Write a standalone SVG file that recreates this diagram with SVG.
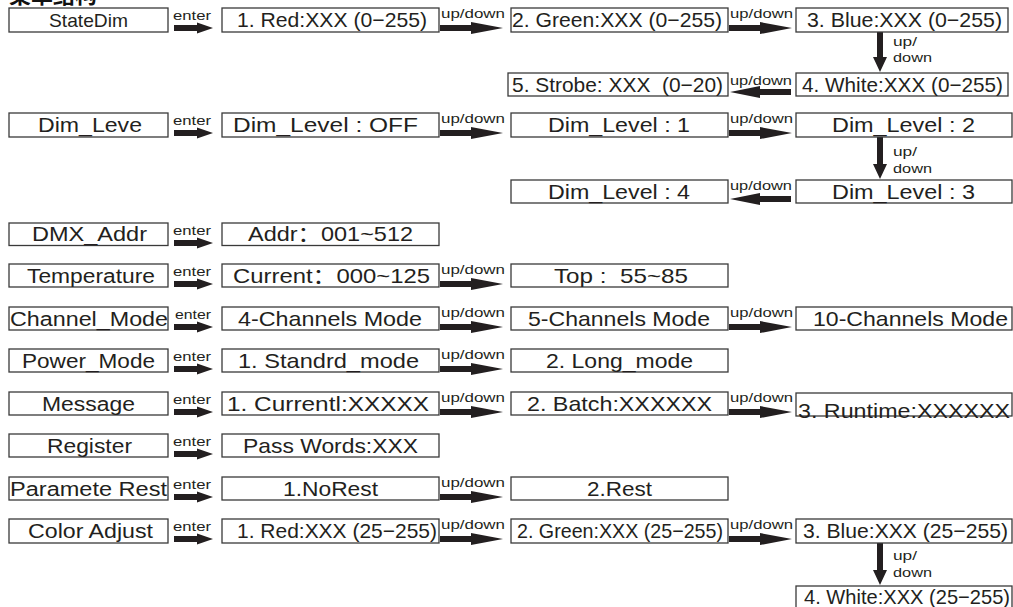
<svg xmlns="http://www.w3.org/2000/svg" width="1013" height="607" viewBox="0 0 1013 607">
<style>
.box{fill:#fff;stroke:#3a3a3a;stroke-width:1.3}
.t{font-family:"Liberation Sans","Noto Sans CJK SC",Arial,sans-serif;font-size:21px;fill:#231f20;white-space:pre}
.c1{font-size:20px}
.s{font-family:"Liberation Sans",Arial,sans-serif;font-size:13.5px;fill:#231f20}
.a{fill:#231f20}
.title{font-family:"Noto Sans CJK SC",sans-serif;font-size:22px;font-weight:bold;fill:#111}
</style>
<defs>
<path id="enterArrow" d="M0,-3 H23 V-5.5 L39,0 L23,5.5 V3 H0 Z"/>
<path id="udArrow" d="M0,-3 H31 V-6 L63,0 L31,6 V3 H0 Z"/>
<path id="udLeft" d="M61,-3 H30 V-6 L0,0 L30,6 V3 H61 Z"/>
</defs>
<rect width="1013" height="607" fill="#fff"/>
<text class="title" x="9" y="3">菜单结构</text>

<g id="connectors">
  <use href="#enterArrow" class="a" x="174" y="28"/>
  <use href="#enterArrow" class="a" x="174" y="133"/>
  <use href="#enterArrow" class="a" x="174" y="243"/>
  <use href="#enterArrow" class="a" x="174" y="284"/>
  <use href="#enterArrow" class="a" x="174" y="327"/>
  <use href="#enterArrow" class="a" x="174" y="369"/>
  <use href="#enterArrow" class="a" x="174" y="412"/>
  <use href="#enterArrow" class="a" x="174" y="454"/>
  <use href="#enterArrow" class="a" x="174" y="497"/>
  <use href="#enterArrow" class="a" x="174" y="539"/>
  <text class="s" x="173" y="19.5" textLength="38" lengthAdjust="spacingAndGlyphs">enter</text>
  <text class="s" x="173" y="124.5" textLength="38" lengthAdjust="spacingAndGlyphs">enter</text>
  <text class="s" x="173" y="234.5" textLength="38" lengthAdjust="spacingAndGlyphs">enter</text>
  <text class="s" x="173" y="275.5" textLength="38" lengthAdjust="spacingAndGlyphs">enter</text>
  <text class="s" x="175" y="318.5" textLength="36" lengthAdjust="spacingAndGlyphs">enter</text>
  <text class="s" x="173" y="360.5" textLength="38" lengthAdjust="spacingAndGlyphs">enter</text>
  <text class="s" x="173" y="403.5" textLength="38" lengthAdjust="spacingAndGlyphs">enter</text>
  <text class="s" x="173" y="445.5" textLength="38" lengthAdjust="spacingAndGlyphs">enter</text>
  <text class="s" x="173" y="488.5" textLength="38" lengthAdjust="spacingAndGlyphs">enter</text>
  <text class="s" x="173" y="530.5" textLength="38" lengthAdjust="spacingAndGlyphs">enter</text>

  <use href="#udArrow" class="a" x="440" y="28"/>
  <use href="#udArrow" class="a" x="440" y="133"/>
  <use href="#udArrow" class="a" x="440" y="284"/>
  <use href="#udArrow" class="a" x="440" y="327"/>
  <use href="#udArrow" class="a" x="440" y="369"/>
  <use href="#udArrow" class="a" x="440" y="412"/>
  <use href="#udArrow" class="a" x="440" y="497"/>
  <use href="#udArrow" class="a" x="440" y="539"/>
  <text class="s" x="441" y="18" textLength="64" lengthAdjust="spacingAndGlyphs">up/down</text>
  <text class="s" x="441" y="123" textLength="64" lengthAdjust="spacingAndGlyphs">up/down</text>
  <text class="s" x="441" y="274" textLength="64" lengthAdjust="spacingAndGlyphs">up/down</text>
  <text class="s" x="441" y="317" textLength="64" lengthAdjust="spacingAndGlyphs">up/down</text>
  <text class="s" x="441" y="359" textLength="64" lengthAdjust="spacingAndGlyphs">up/down</text>
  <text class="s" x="441" y="402" textLength="64" lengthAdjust="spacingAndGlyphs">up/down</text>
  <text class="s" x="441" y="487" textLength="64" lengthAdjust="spacingAndGlyphs">up/down</text>
  <text class="s" x="441" y="529" textLength="64" lengthAdjust="spacingAndGlyphs">up/down</text>

  <use href="#udArrow" class="a" x="729" y="28"/>
  <use href="#udArrow" class="a" x="729" y="133"/>
  <use href="#udArrow" class="a" x="729" y="327"/>
  <use href="#udArrow" class="a" x="729" y="412"/>
  <use href="#udArrow" class="a" x="729" y="539"/>
  <text class="s" x="730" y="18" textLength="63" lengthAdjust="spacingAndGlyphs">up/down</text>
  <text class="s" x="730" y="123" textLength="63" lengthAdjust="spacingAndGlyphs">up/down</text>
  <text class="s" x="730" y="317" textLength="63" lengthAdjust="spacingAndGlyphs">up/down</text>
  <text class="s" x="730" y="402" textLength="63" lengthAdjust="spacingAndGlyphs">up/down</text>
  <text class="s" x="730" y="529" textLength="63" lengthAdjust="spacingAndGlyphs">up/down</text>

  <use href="#udLeft" class="a" x="730" y="92"/>
  <use href="#udLeft" class="a" x="730" y="199"/>
  <text class="s" x="730" y="85" textLength="62" lengthAdjust="spacingAndGlyphs">up/down</text>
  <text class="s" x="730" y="190" textLength="62" lengthAdjust="spacingAndGlyphs">up/down</text>

  <path class="a" d="M877,32 V57 H873 L880,72 L887,57 H883 V32 Z"/>
  <path class="a" d="M877,137 V164 H873 L880,179 L887,164 H883 V137 Z"/>
  <path class="a" d="M877,543 V570 H873 L880,585 L887,570 H883 V543 Z"/>
  <text class="s" x="893" y="46" textLength="24" lengthAdjust="spacingAndGlyphs">up/</text>
  <text class="s" x="893" y="62" textLength="39" lengthAdjust="spacingAndGlyphs">down</text>
  <text class="s" x="893" y="156" textLength="24" lengthAdjust="spacingAndGlyphs">up/</text>
  <text class="s" x="893" y="173" textLength="39" lengthAdjust="spacingAndGlyphs">down</text>
  <text class="s" x="893" y="560" textLength="24" lengthAdjust="spacingAndGlyphs">up/</text>
  <text class="s" x="893" y="577" textLength="39" lengthAdjust="spacingAndGlyphs">down</text>
</g>

<g id="n-statedim"><rect class="box" x="9" y="8" width="159" height="24"/><text class="t" style="font-size:19px" x="49" y="27" textLength="79" lengthAdjust="spacingAndGlyphs">StateDim</text></g>
<g id="n-red"><rect class="box" x="222" y="8" width="217" height="24"/><text class="t" x="237" y="27" textLength="190" lengthAdjust="spacingAndGlyphs">1. Red:XXX (0−255)</text></g>
<g id="n-green"><rect class="box" x="511" y="8" width="217" height="24"/><text class="t" x="512" y="27" textLength="210" lengthAdjust="spacingAndGlyphs">2. Green:XXX (0−255)</text></g>
<g id="n-blue"><rect class="box" x="796" y="8" width="212" height="24"/><text class="t" x="807" y="27" textLength="195" lengthAdjust="spacingAndGlyphs">3. Blue:XXX (0−255)</text></g>
<g id="n-strobe"><rect class="box" x="508" y="73" width="220" height="23"/><text class="t" x="512" y="92" textLength="211" lengthAdjust="spacingAndGlyphs">5. Strobe: XXX  (0−20)</text></g>
<g id="n-white"><rect class="box" x="796" y="73" width="212" height="23"/><text class="t" x="802" y="92" textLength="201" lengthAdjust="spacingAndGlyphs">4. White:XXX (0−255)</text></g>

<g id="n-dimleve"><rect class="box" x="9" y="113" width="159" height="24"/><text class="t c1" x="38" y="132" textLength="104" lengthAdjust="spacingAndGlyphs">Dim_Leve</text></g>
<g id="n-dimoff"><rect class="box" x="222" y="113" width="217" height="24"/><text class="t" x="233" y="132" textLength="185" lengthAdjust="spacingAndGlyphs">Dim_Level : OFF</text></g>
<g id="n-dim1"><rect class="box" x="511" y="113" width="217" height="24"/><text class="t" x="548" y="132" textLength="142" lengthAdjust="spacingAndGlyphs">Dim_Level : 1</text></g>
<g id="n-dim2"><rect class="box" x="796" y="113" width="216" height="24"/><text class="t" x="832" y="132" textLength="143" lengthAdjust="spacingAndGlyphs">Dim_Level : 2</text></g>
<g id="n-dim4"><rect class="box" x="511" y="180" width="217" height="23"/><text class="t" x="548" y="199" textLength="142" lengthAdjust="spacingAndGlyphs">Dim_Level : 4</text></g>
<g id="n-dim3"><rect class="box" x="796" y="180" width="216" height="23"/><text class="t" x="832" y="199" textLength="143" lengthAdjust="spacingAndGlyphs">Dim_Level : 3</text></g>

<g id="n-dmx"><rect class="box" x="9" y="223" width="159" height="22.5"/><text class="t c1" x="32" y="241" textLength="115" lengthAdjust="spacingAndGlyphs">DMX_Addr</text></g>
<g id="n-addr"><rect class="box" x="222" y="223" width="217" height="22.5"/><text class="t" x="248" y="241" textLength="165" lengthAdjust="spacingAndGlyphs">Addr：001~512</text></g>

<g id="n-temp"><rect class="box" x="9" y="264" width="159" height="23"/><text class="t c1" x="27" y="283" textLength="128" lengthAdjust="spacingAndGlyphs">Temperature</text></g>
<g id="n-current"><rect class="box" x="222" y="264" width="217" height="23"/><text class="t" x="233" y="283" textLength="197" lengthAdjust="spacingAndGlyphs">Current：000~125</text></g>
<g id="n-top"><rect class="box" x="511" y="264" width="217" height="23"/><text class="t" x="554" y="283" textLength="134" lengthAdjust="spacingAndGlyphs">Top :  55~85</text></g>

<g id="n-chan"><rect class="box" x="9" y="307" width="159" height="23"/><text class="t c1" x="10" y="326" textLength="158" lengthAdjust="spacingAndGlyphs">Channel_Mode</text></g>
<g id="n-ch4"><rect class="box" x="222" y="307" width="217" height="23"/><text class="t" x="238" y="326" textLength="184" lengthAdjust="spacingAndGlyphs">4-Channels Mode</text></g>
<g id="n-ch5"><rect class="box" x="511" y="307" width="217" height="23"/><text class="t" x="528" y="326" textLength="182" lengthAdjust="spacingAndGlyphs">5-Channels Mode</text></g>
<g id="n-ch10"><rect class="box" x="796" y="307" width="216" height="23"/><text class="t" x="813" y="326" textLength="195" lengthAdjust="spacingAndGlyphs">10-Channels Mode</text></g>

<g id="n-power"><rect class="box" x="9" y="349" width="159" height="23"/><text class="t c1" x="22" y="368" textLength="133" lengthAdjust="spacingAndGlyphs">Power_Mode</text></g>
<g id="n-std"><rect class="box" x="222" y="349" width="217" height="23"/><text class="t" x="238" y="368" textLength="181" lengthAdjust="spacingAndGlyphs">1. Standrd_mode</text></g>
<g id="n-long"><rect class="box" x="511" y="349" width="217" height="23"/><text class="t" x="546" y="368" textLength="147" lengthAdjust="spacingAndGlyphs">2. Long_mode</text></g>

<g id="n-msg"><rect class="box" x="9" y="392" width="159" height="23"/><text class="t c1" x="42" y="411" textLength="93" lengthAdjust="spacingAndGlyphs">Message</text></g>
<g id="n-currentl"><rect class="box" x="222" y="392" width="217" height="23"/><text class="t" x="227" y="411" textLength="202" lengthAdjust="spacingAndGlyphs">1. Currentl:XXXXX</text></g>
<g id="n-batch"><rect class="box" x="511" y="392" width="217" height="23"/><text class="t" x="527" y="411" textLength="185" lengthAdjust="spacingAndGlyphs">2. Batch:XXXXXX</text></g>
<g id="n-runtime"><rect class="box" x="796" y="393" width="216" height="23"/><text class="t" x="798" y="418" textLength="212" lengthAdjust="spacingAndGlyphs">3. Runtime:XXXXXX</text></g>

<g id="n-reg"><rect class="box" x="9" y="434" width="159" height="23"/><text class="t c1" x="47" y="453" textLength="85" lengthAdjust="spacingAndGlyphs">Register</text></g>
<g id="n-pass"><rect class="box" x="222" y="434" width="217" height="23"/><text class="t" x="243" y="453" textLength="175" lengthAdjust="spacingAndGlyphs">Pass Words:XXX</text></g>

<g id="n-param"><rect class="box" x="9" y="477" width="159" height="23"/><text class="t c1" x="10" y="496" textLength="157" lengthAdjust="spacingAndGlyphs">Paramete Rest</text></g>
<g id="n-norest"><rect class="box" x="222" y="477" width="217" height="23"/><text class="t" x="283" y="496" textLength="95" lengthAdjust="spacingAndGlyphs">1.NoRest</text></g>
<g id="n-rest"><rect class="box" x="511" y="477" width="217" height="23"/><text class="t" x="587" y="496" textLength="65" lengthAdjust="spacingAndGlyphs">2.Rest</text></g>

<g id="n-color"><rect class="box" x="9" y="519" width="159" height="24"/><text class="t c1" x="28" y="538" textLength="125" lengthAdjust="spacingAndGlyphs">Color Adjust</text></g>
<g id="n-cred"><rect class="box" x="222" y="519" width="217" height="24"/><text class="t" x="237" y="538" textLength="200" lengthAdjust="spacingAndGlyphs">1. Red:XXX (25−255)</text></g>
<g id="n-cgreen"><rect class="box" x="511" y="519" width="217" height="24"/><text class="t" x="517" y="538" textLength="206" lengthAdjust="spacingAndGlyphs">2. Green:XXX (25−255)</text></g>
<g id="n-cblue"><rect class="box" x="796" y="519" width="216" height="24"/><text class="t" x="803" y="538" textLength="205" lengthAdjust="spacingAndGlyphs">3. Blue:XXX (25−255)</text></g>
<g id="n-cwhite"><rect class="box" x="796" y="586" width="216" height="24"/><text class="t" x="804" y="604" textLength="206" lengthAdjust="spacingAndGlyphs">4. White:XXX (25−255)</text></g>
</svg>
